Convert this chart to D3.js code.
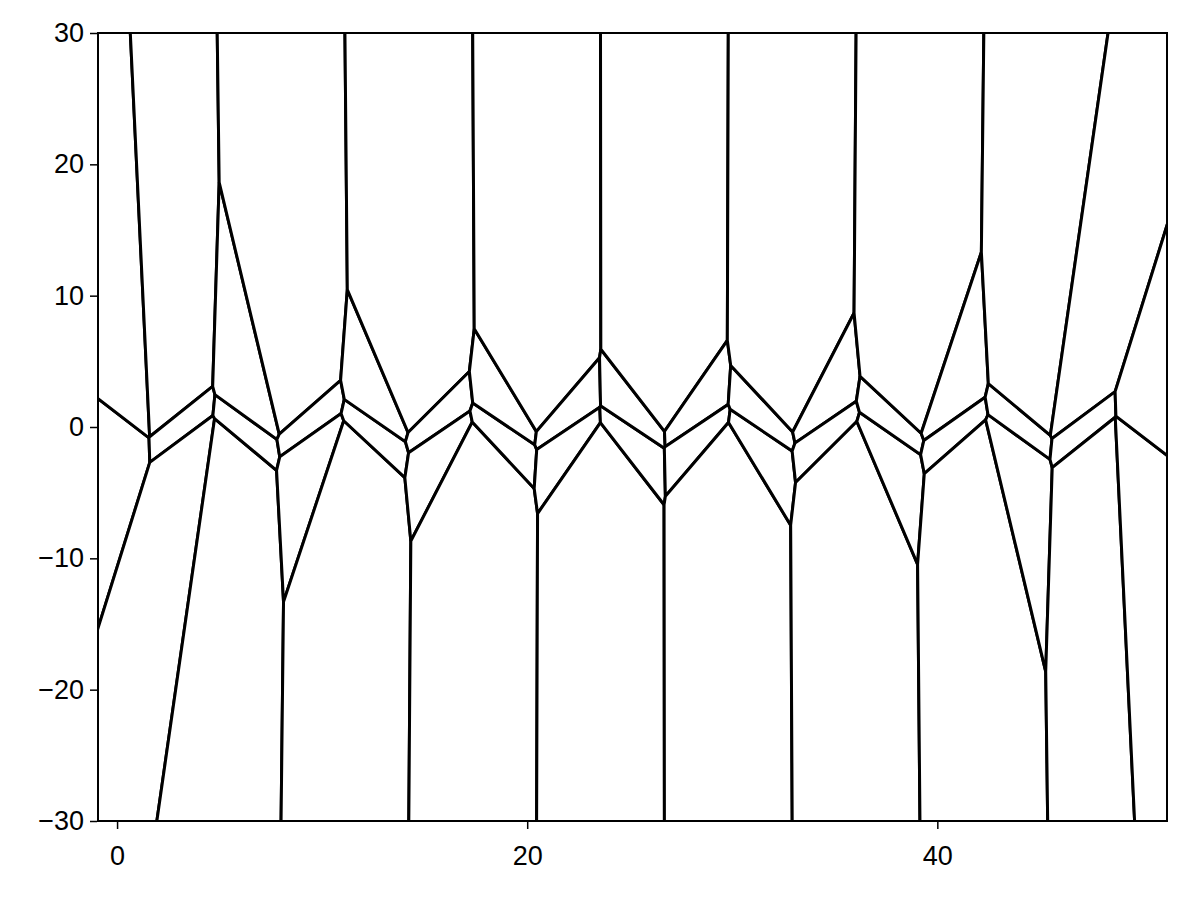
<!DOCTYPE html>
<html><head><meta charset="utf-8">
<script src="https://cdn.jsdelivr.net/npm/d3@7"></script>
<style>body{margin:0;background:#fff} svg{display:block}</style>
</head><body>
<svg id="chart" width="1200" height="900"></svg>
<script>
// Generator points of the Voronoi tessellation (x, sin x) sampled at 50 positions
const xValues = [0, 1.025826, 2.051652, 3.077479, 4.103305, 5.129131, 6.154957, 7.180783, 8.206609, 9.232436,
  10.258262, 11.284088, 12.309914, 13.335740, 14.361566, 15.387393, 16.413219, 17.439045, 18.464871, 19.490697,
  20.516523, 21.542350, 22.568176, 23.594002, 24.619828, 25.645654, 26.671480, 27.697307, 28.723133, 29.748959,
  30.774785, 31.800611, 32.826438, 33.852264, 34.878090, 35.903916, 36.929742, 37.955568, 38.981395, 40.007221,
  41.033047, 42.058873, 43.084699, 44.110525, 45.136352, 46.162178, 47.188004, 48.213830, 49.239656, 50.265482];
const yValues = [0, 0.855142, 0.886599, 0.064071, -0.820172, -0.914413, -0.127878, 0.781831, 0.938469, 0.191160,
  -0.740277, -0.958668, -0.253656, 0.695681, 0.974929, 0.315111, -0.648226, -0.987309, -0.375270, 0.598108,
  0.995378, 0.433889, -0.545531, -0.999486, -0.490721, 0.490721, 0.999486, 0.545531, -0.433889, -0.995378,
  -0.598108, 0.375270, 0.987309, 0.648226, -0.315111, -0.974929, -0.695681, 0.253656, 0.958668, 0.740277,
  -0.191160, -0.938469, -0.781831, 0.127878, 0.914413, 0.820172, -0.064071, -0.886599, -0.855142, 0];
const xTicks = [0, 20, 40];
const yTicks = [-30, -20, -10, 0, 10, 20, 30];
const xDomain = [-0.93, 51.2];
const yDomain = [-30, 30];

const W = 1200, H = 900;
const plot = {left: 98, right: 1167, top: 33, bottom: 821};
const svg = d3.select('#chart');
svg.append('rect').attr('width', W).attr('height', H).attr('fill', '#fff');

const x = d3.scaleLinear().domain(xDomain).range([plot.left, plot.right]);
const y = d3.scaleLinear().domain(yDomain).range([plot.bottom, plot.top]);

svg.append('defs').append('clipPath').attr('id', 'clip')
  .append('rect').attr('x', plot.left).attr('y', plot.top)
  .attr('width', plot.right - plot.left).attr('height', plot.bottom - plot.top);

const pts = xValues.map((v, i) => [v, yValues[i]]);
const delaunay = d3.Delaunay.from(pts);
const vor = delaunay.voronoi([-1000, -1000, 1000, 1000]);
const line = d3.line().x(d => x(d[0])).y(d => y(d[1]));

const cells = svg.append('g').attr('clip-path', 'url(#clip)');
for (const poly of vor.cellPolygons()) {
  cells.append('path')
    .attr('d', line(poly) + 'Z')
    .attr('fill', '#fff')
    .attr('stroke', '#000')
    .attr('stroke-width', 3)
    .attr('stroke-linejoin', 'miter')
    .attr('stroke-miterlimit', 2);
}

// frame
svg.append('rect').attr('x', plot.left).attr('y', plot.top)
  .attr('width', plot.right - plot.left).attr('height', plot.bottom - plot.top)
  .attr('fill', 'none').attr('stroke', '#000').attr('stroke-width', 2);

const font = "'Liberation Sans', Arial, sans-serif";
const fmt = d3.format('d');
const gy = svg.append('g').attr('transform', `translate(${plot.left - 1},0)`)
  .call(d3.axisLeft(y).tickValues(yTicks).tickSize(7).tickPadding(6).tickFormat(fmt));
const gx = svg.append('g').attr('transform', `translate(0,${plot.bottom + 1})`)
  .call(d3.axisBottom(x).tickValues(xTicks).tickSize(7).tickPadding(17).tickFormat(fmt));
for (const g of [gx, gy]) {
  g.select('.domain').remove();
  g.selectAll('line').attr('stroke', '#000').attr('stroke-width', 1.5);
  g.selectAll('text').attr('fill', '#000').style('font-family', font).style('font-size', '27px');
}
</script>
</body></html>
